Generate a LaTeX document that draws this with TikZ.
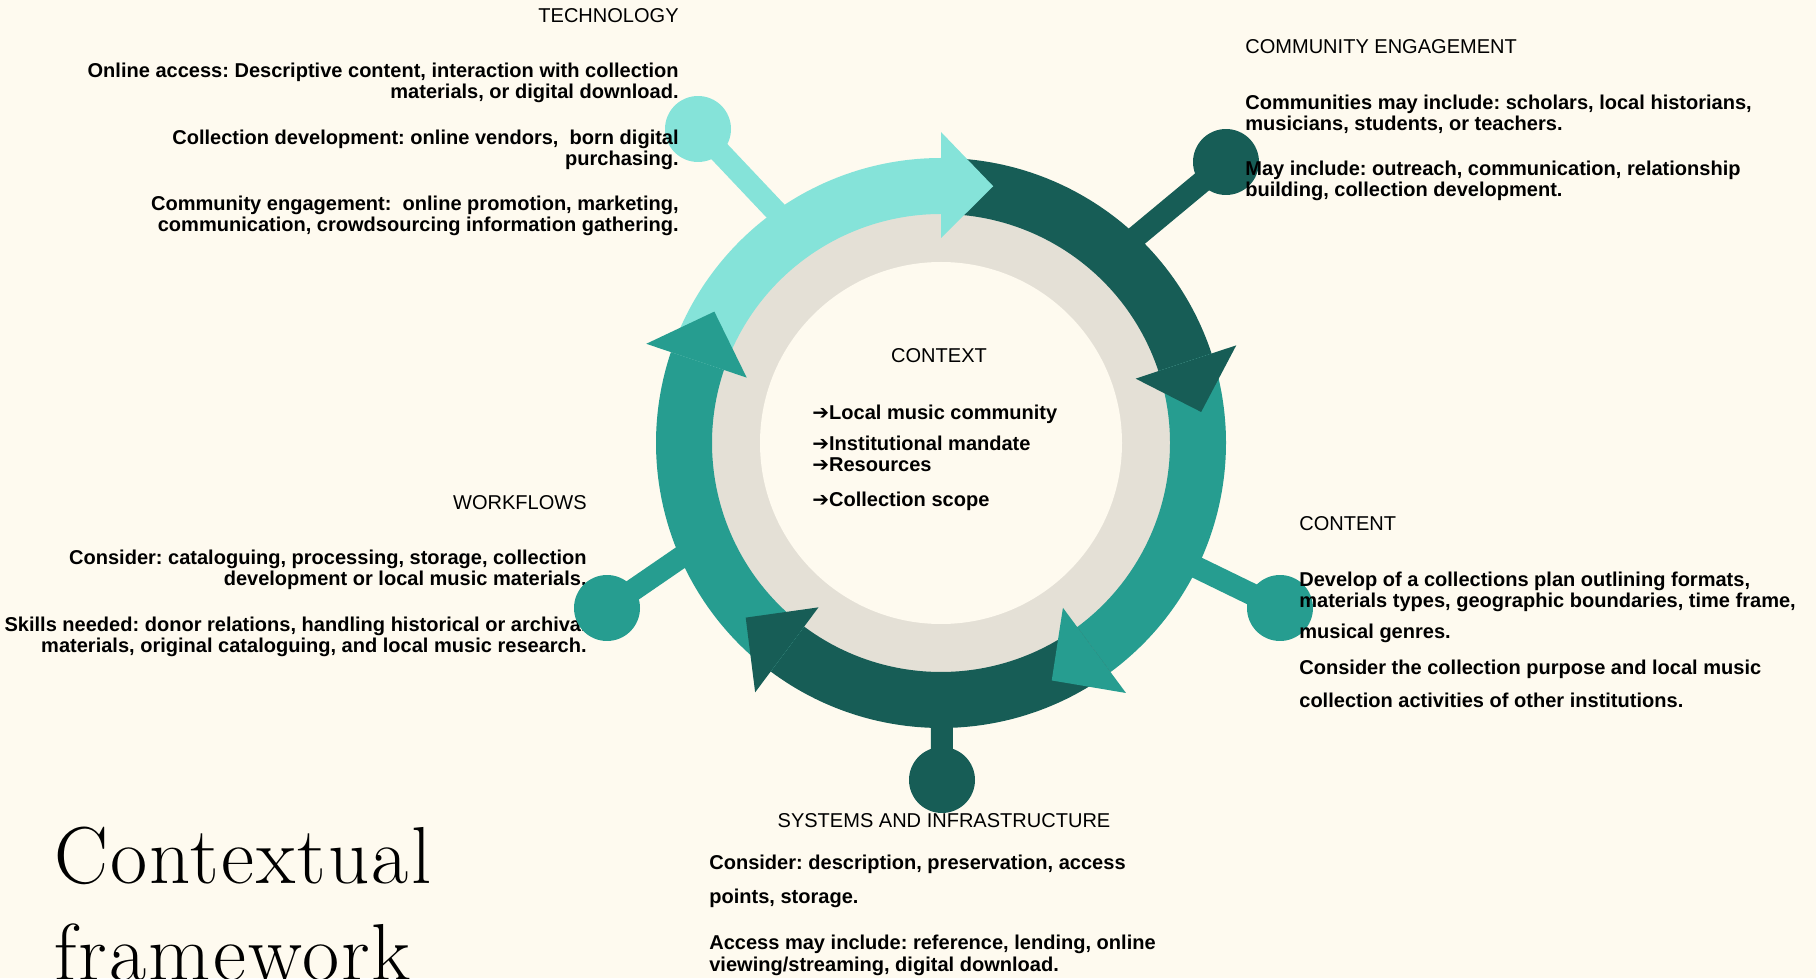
\documentclass[tikz,border=0pt]{standalone}
\usepackage{fontspec}
\usepackage{xcolor}
\usepackage{tikz}
\newfontfamily\labelfont{Liberation Sans}
\newfontfamily\arrowfont{DejaVu Sans}
\newfontfamily\titlefont[LetterSpace=2.6]{Latin Modern Roman}
\definecolor{cream}{HTML}{FEFAEF}
\definecolor{beige}{HTML}{E4E0D6}
\definecolor{lightteal}{HTML}{85E3D9}
\definecolor{midteal}{HTML}{269D90}
\definecolor{darkteal}{HTML}{175D56}
\frenchspacing

\begin{document}
\begin{tikzpicture}[x=0.02cm, y=0.02cm,
    heading/.style={font=\labelfont\fontsize{11.4pt}{12pt}\selectfont},
    body/.style={font=\labelfont\bfseries\fontsize{11.4pt}{12pt}\selectfont},
    dot/.style={circle, minimum size=1.32cm},
    spoke/.style={line width=0.44cm}]
	\tikzstyle{every node}+=[inner sep=0pt]
	\useasboundingbox [fill=cream] (0,0) rectangle (1816,978);
	\coordinate (ring) at (941,535);
	\coordinate (techpt) at (698,849);
	\coordinate (commpt) at (1226,816);
	\coordinate (contentpt) at (1280,370);
	\coordinate (systemspt) at (942,198);
	\coordinate (workpt) at (607,370);
	\coordinate (techin) at (870,667);
	\coordinate (commin) at (1072,688);
	\coordinate (workin) at (814,512);
	% spokes
	\draw [spoke, lightteal] (techin) -- (techpt);
	\draw [spoke, darkteal] (commin) -- (commpt);
	\draw [spoke, midteal] (ring) -- (contentpt);
	\draw [spoke, darkteal] (ring) -- (systemspt);
	\draw [spoke, midteal] (workin) -- (workpt);
	% inner rings
	\fill [beige] (ring) circle (231);
	\fill [cream] (ring) circle (181);
	% bands
	\fill [lightteal] ([shift={(161.4:285)}]ring) arc [start angle=161.4, end angle=90, radius=285] -- ([shift={(90:229)}]ring) arc [start angle=90, end angle=161.4, radius=229] -- cycle;
	\fill [darkteal] ([shift={(90:285)}]ring) arc [start angle=90, end angle=18.3, radius=285] -- ([shift={(18.3:229)}]ring) arc [start angle=18.3, end angle=90, radius=229] -- cycle;
	\fill [midteal] ([shift={(18.3:285)}]ring) arc [start angle=18.3, end angle=-53.5, radius=285] -- ([shift={(-53.5:229)}]ring) arc [start angle=-53.5, end angle=18.3, radius=229] -- cycle;
	\fill [darkteal] ([shift={(-53.5:285)}]ring) arc [start angle=-53.5, end angle=-126.7, radius=285] -- ([shift={(-126.7:229)}]ring) arc [start angle=-126.7, end angle=-53.5, radius=229] -- cycle;
	\fill [midteal] ([shift={(233.3:285)}]ring) arc [start angle=233.3, end angle=161.4, radius=285] -- ([shift={(161.4:229)}]ring) arc [start angle=161.4, end angle=233.3, radius=229] -- cycle;
	% heads
	\fill [lightteal] ([shift={(90:205)}]ring) -- ([shift={(90:311)}]ring) -- ([shift={(78.5:262)}]ring) -- cycle;
	\fill [darkteal] ([shift={(18.3:205)}]ring) -- ([shift={(18.3:311)}]ring) -- ([shift={(6.8:262)}]ring) -- cycle;
	\fill [midteal] ([shift={(-53.5:205)}]ring) -- ([shift={(-53.5:311)}]ring) -- ([shift={(-65:262)}]ring) -- cycle;
	\fill [darkteal] ([shift={(-126.7:205)}]ring) -- ([shift={(-126.7:311)}]ring) -- ([shift={(-138.2:262)}]ring) -- cycle;
	\fill [midteal] ([shift={(161.4:205)}]ring) -- ([shift={(161.4:311)}]ring) -- ([shift={(149.9:262)}]ring) -- cycle;
	% dots
	\node [dot, fill=lightteal] (techdot) at (techpt) {};
	\node [dot, fill=darkteal] (commdot) at (commpt) {};
	\node [dot, fill=midteal] (contentdot) at (contentpt) {};
	\node [dot, fill=darkteal] (systemsdot) at (systemspt) {};
	% context
	\node [heading, anchor=base] (contexthead) at (939,615) {CONTEXT};
	\node [body, anchor=base west, align=left] (contextlist) at (812,471) {{\arrowfont ➔}Local music community\\[5.7pt]{\arrowfont ➔}Institutional mandate\\{\arrowfont ➔}Resources\\[8pt]{\arrowfont ➔}Collection scope};
	% technology
	\node [heading, anchor=base east] (techhead) at (679,955) {TECHNOLOGY};
	\node [body, anchor=base east, align=right] (techa) at (679,879) {Online access: Descriptive content, interaction with collection\\materials, or digital download.};
	\node [body, anchor=base east, align=right] (techb) at (679,812) {Collection development: online vendors, \ born digital\\purchasing.};
	\node [body, anchor=base east, align=right] (techc) at (679,746) {Community engagement: \ online promotion, marketing,\\communication, crowdsourcing information gathering.};
	% community engagement
	\node [heading, anchor=base west] (commhead) at (1245,924) {COMMUNITY ENGAGEMENT};
	\node [body, anchor=base west, align=left] (comma) at (1245,847) {Communities may include: scholars, local historians,\\musicians, students, or teachers.};
	\node [body, anchor=base west, align=left] (commb) at (1245,781) {May include: outreach, communication, relationship\\building, collection development.};
	% content
	\node [heading, anchor=base west] (contenthead) at (1299,447) {CONTENT};
	\node [body, anchor=base west, align=left] (contenta) at (1299,339) {Develop of a collections plan outlining formats,\\materials types, geographic boundaries, time frame,\\[5.7pt]musical genres.};
	\node [body, anchor=base west, align=left] (contentb) at (1299,271) {Consider the collection purpose and local music\\[6.3pt]collection activities of other institutions.};
	% workflows
	\node [heading, anchor=base east] (workhead) at (587,468) {WORKFLOWS};
	\node [body, anchor=base east, align=right] (worka) at (587,392) {Consider: cataloguing, processing, storage, collection\\development or local music materials.};
	\node [body, anchor=base east, align=right] (workb) at (587,325) {Skills needed: donor relations, handling historical or archival\\materials, original cataloguing, and local music research.};
	\node [dot, fill=midteal] (workdot) at (workpt) {};
	% systems and infrastructure
	\node [heading, anchor=base] (systemshead) at (944,151) {SYSTEMS AND INFRASTRUCTURE};
	\node [body, anchor=base west, align=left] (systemsa) at (709,75) {Consider: description, preservation, access\\[6.8pt]points, storage.};
	\node [body, anchor=base west, align=left] (systemsb) at (709,7) {Access may include: reference, lending, online\\viewing/streaming, digital download.};
	% title
	\node [font=\titlefont\fontsize{46pt}{50pt}\selectfont, anchor=base west] (titlea) at (54,95) {Contextual};
	\node [font=\titlefont\fontsize{46pt}{50pt}\selectfont, anchor=base west] (titleb) at (54,-2) {framework};
\end{tikzpicture}
\end{document}
